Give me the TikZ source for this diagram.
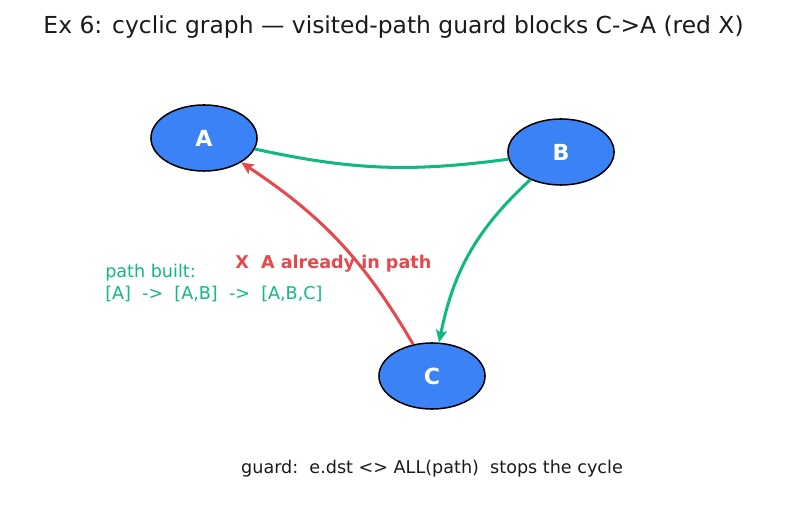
\documentclass[tikz,border=0pt]{standalone}
\usepackage{fontspec}
\setmainfont{DejaVu Sans}
\usepackage{tikz}
\usetikzlibrary{positioning}
\usetikzlibrary{shapes.geometric,arrows.meta}
\definecolor{nodeblue}{HTML}{3B82F6}
\definecolor{pathgreen}{HTML}{10B981}
\definecolor{guardred}{HTML}{E5484D}
\definecolor{inkdark}{HTML}{1A1A1A}
\tikzset{
	auto,
	vertex/.style ={ellipse, draw=black, line width=1.1pt, fill=nodeblue,
		minimum width=1.06in, minimum height=0.66in, inner sep=0pt,
		text=white, font=\fontsize{16}{18}\selectfont\bfseries},
	walk/.style = {draw=pathgreen, line width=2.2pt},
	blocked/.style = {draw=guardred, line width=2.2pt},
	tip/.style = {-{Stealth[length=9pt,width=8pt,inset=2pt]}},
}

\begin{document}
\begin{tikzpicture}[x=0.01in,y=0.01in]
	\useasboundingbox (0,0) rectangle (787,510);
	\node (title) [text=inkdark, font=\fontsize{16.9}{19}\selectfont] at (393.5,483)
		{Ex 6: cyclic graph — visited-path guard blocks C->A (red X)};
	\node (a) [vertex] at (204,372) {A};
	\node (b) [vertex] at (561,358) {B};
	\node (c) [vertex] at (432,134) {C};
	\draw[walk] (a) to[bend right=10] (b);
	\draw[walk, tip] (b) to[bend right=18] (c);
	\draw[blocked, tip] (c) to[bend right=13] (a);
	\node (note) [anchor=west, align=left, text=pathgreen, inner sep=0pt,
		font=\fontsize{12.7}{15.2}\selectfont] at (105,227)
		{path built:\\{[A]}\ \ ->\ \ {[A,B]}\ \ ->\ \ {[A,B,C]}};
	\node (cross) [anchor=west, inner sep=0pt, text=guardred,
		font=\fontsize{12.7}{15}\selectfont\bfseries] at (235,246)
		{X\ \ A already in path};
	\node (guard) [text=inkdark, font=\fontsize{12.7}{15}\selectfont] at (432,41)
		{guard:\ \ e.dst <> ALL(path)\ \ stops the cycle};
\end{tikzpicture}
\end{document}
